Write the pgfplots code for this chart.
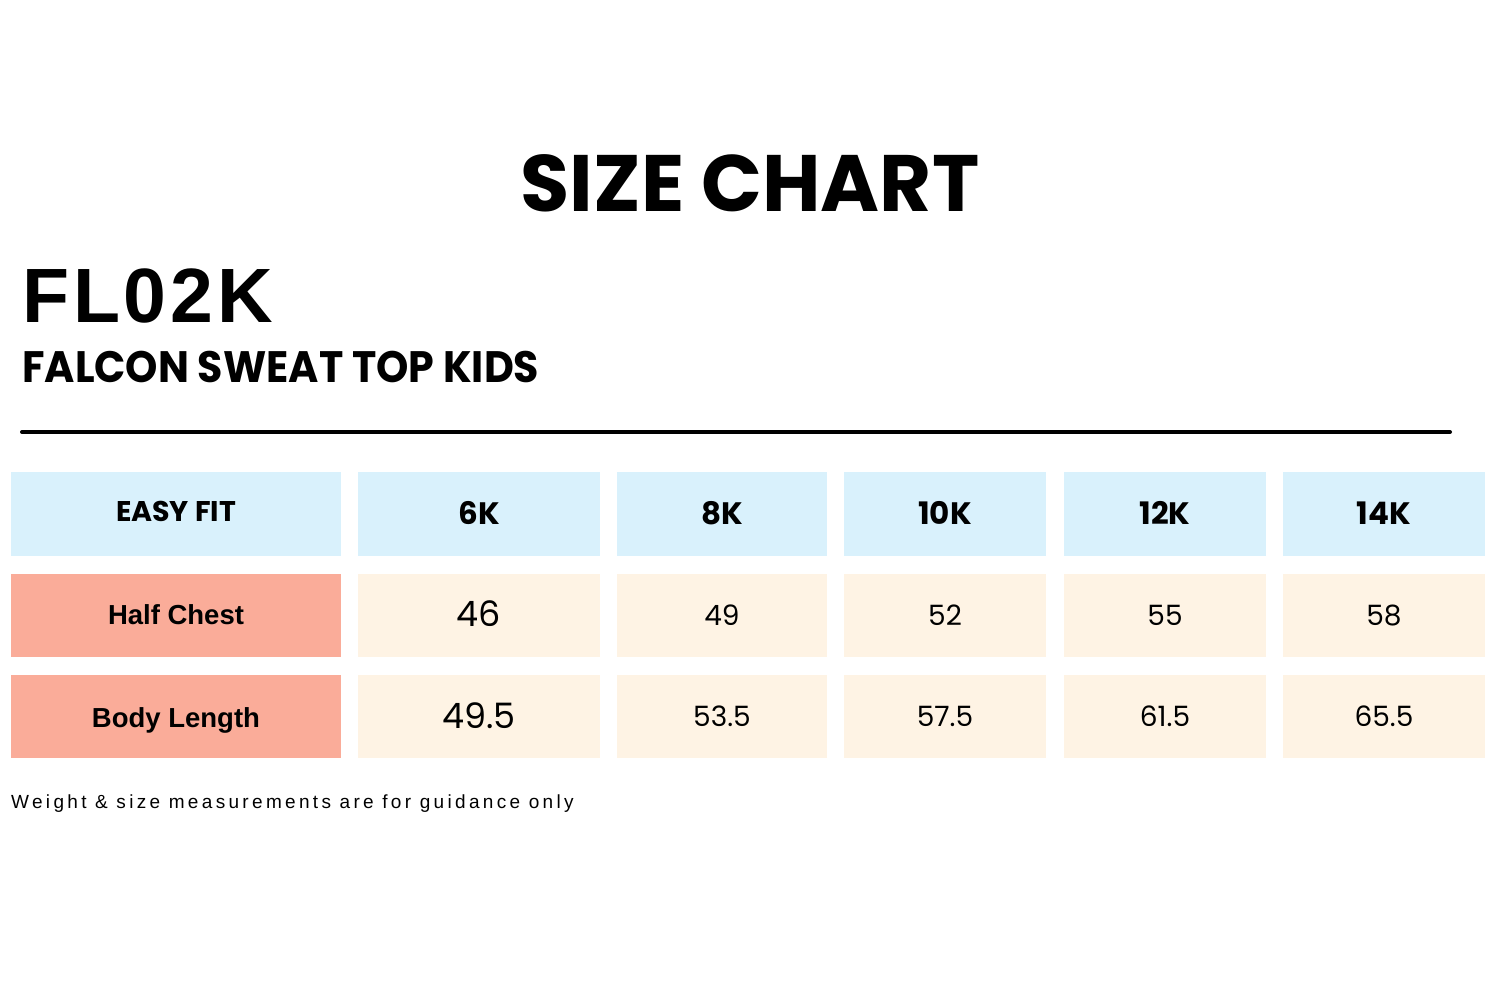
\documentclass[border=0pt]{standalone}
\usepackage{pgfplots}
\usepackage{pgfplotstable}
\pgfplotsset{compat=1.18}
\usepackage{fontspec}
\setmainfont{Liberation Sans}
\newfontfamily\pop{Poppins}
\newfontfamily\footfont{Liberation Sans}[LetterSpace=17.5]
\newfontfamily\codefont{Liberation Sans}[LetterSpace=5]
\definecolor{hdrblue}{RGB}{217,241,252}
\definecolor{salmon}{RGB}{250,172,153}
\definecolor{cream}{RGB}{254,243,228}

% header row: x baseline label
\pgfplotstableread{
x y label
479 524 6K
722 524 8K
945 524 10K
1165 524 12K
1384 524 14K
}\headtab
% first size column (larger type)
\pgfplotstableread{
x y label
479 626 46
479 728 49.5
}\firsttab
% other size columns
\pgfplotstableread{
x y label
722 625 49
945 625 52
1165 625 55
1384 625 58
722 726 53.5
945 726 57.5
1165 726 61.5
1384 726 65.5
}\resttab

\begin{document}
\begin{tikzpicture}
\begin{axis}[
  width=1500pt, height=1000pt, scale only axis,
  xmin=0, xmax=1500, ymin=0, ymax=1000, y dir=reverse,
  hide axis, clip=false,
]
\fill[white] (axis cs:0,0) rectangle (axis cs:1500,1000);
% title block
\node[anchor=base, font={\pop\bfseries\fontsize{80}{90}\selectfont}] at (axis cs:750,212) {SIZE CHART};
\node[anchor=base west, inner sep=0pt, font={\codefont\bfseries\fontsize{77}{85}\selectfont}] at (axis cs:22,323) {FL02K};
\node[anchor=base west, inner sep=0pt, font={\pop\bfseries\fontsize{44}{50}\selectfont}] at (axis cs:22,382) {\scalebox{0.935}[1]{FALCON SWEAT TOP KIDS}};
\draw[line width=4pt, line cap=round] (axis cs:22,432) -- (axis cs:1450,432);
% cells
\fill[hdrblue] (axis cs:11,472) rectangle (axis cs:341,556);
\fill[hdrblue] (axis cs:358,472) rectangle (axis cs:600,556);
\fill[hdrblue] (axis cs:617,472) rectangle (axis cs:827,556);
\fill[hdrblue] (axis cs:844,472) rectangle (axis cs:1046,556);
\fill[hdrblue] (axis cs:1064,472) rectangle (axis cs:1266,556);
\fill[hdrblue] (axis cs:1283,472) rectangle (axis cs:1485,556);
\fill[salmon] (axis cs:11,574) rectangle (axis cs:341,657);
\fill[salmon] (axis cs:11,675) rectangle (axis cs:341,758);
\fill[cream] (axis cs:358,574) rectangle (axis cs:600,657);
\fill[cream] (axis cs:617,574) rectangle (axis cs:827,657);
\fill[cream] (axis cs:844,574) rectangle (axis cs:1046,657);
\fill[cream] (axis cs:1064,574) rectangle (axis cs:1266,657);
\fill[cream] (axis cs:1283,574) rectangle (axis cs:1485,657);
\fill[cream] (axis cs:358,675) rectangle (axis cs:600,758);
\fill[cream] (axis cs:617,675) rectangle (axis cs:827,758);
\fill[cream] (axis cs:844,675) rectangle (axis cs:1046,758);
\fill[cream] (axis cs:1064,675) rectangle (axis cs:1266,758);
\fill[cream] (axis cs:1283,675) rectangle (axis cs:1485,758);
% row/col labels
\node[anchor=base, font={\pop\bfseries\fontsize{28.5}{30}\selectfont}] at (axis cs:176,521) {EASY FIT};
\node[anchor=base, font={\bfseries\fontsize{27.5}{30}\selectfont}] at (axis cs:176,624) {Half Chest};
\node[anchor=base, font={\bfseries\fontsize{27.5}{30}\selectfont}] at (axis cs:176,727) {Body Length};
% values
\addplot[draw=none, mark=none, nodes near coords, point meta=explicit symbolic,
  every node near coord/.append style={anchor=base, font={\pop\bfseries\fontsize{31}{34}\selectfont}}]
  table[x=x, y=y, meta=label] {\headtab};
\addplot[draw=none, mark=none, nodes near coords, point meta=explicit symbolic,
  every node near coord/.append style={anchor=base, font={\pop\fontsize{35}{38}\selectfont}}]
  table[x=x, y=y, meta=label] {\firsttab};
\addplot[draw=none, mark=none, nodes near coords, point meta=explicit symbolic,
  every node near coord/.append style={anchor=base, font={\pop\fontsize{28}{32}\selectfont}}]
  table[x=x, y=y, meta=label] {\resttab};
% footnote
\node[anchor=base west, inner sep=0pt, font={\footfont\fontsize{19}{21}\selectfont}] at (axis cs:11,808) {Weight \& size measurements are for guidance only};
\end{axis}
\end{tikzpicture}
\end{document}
